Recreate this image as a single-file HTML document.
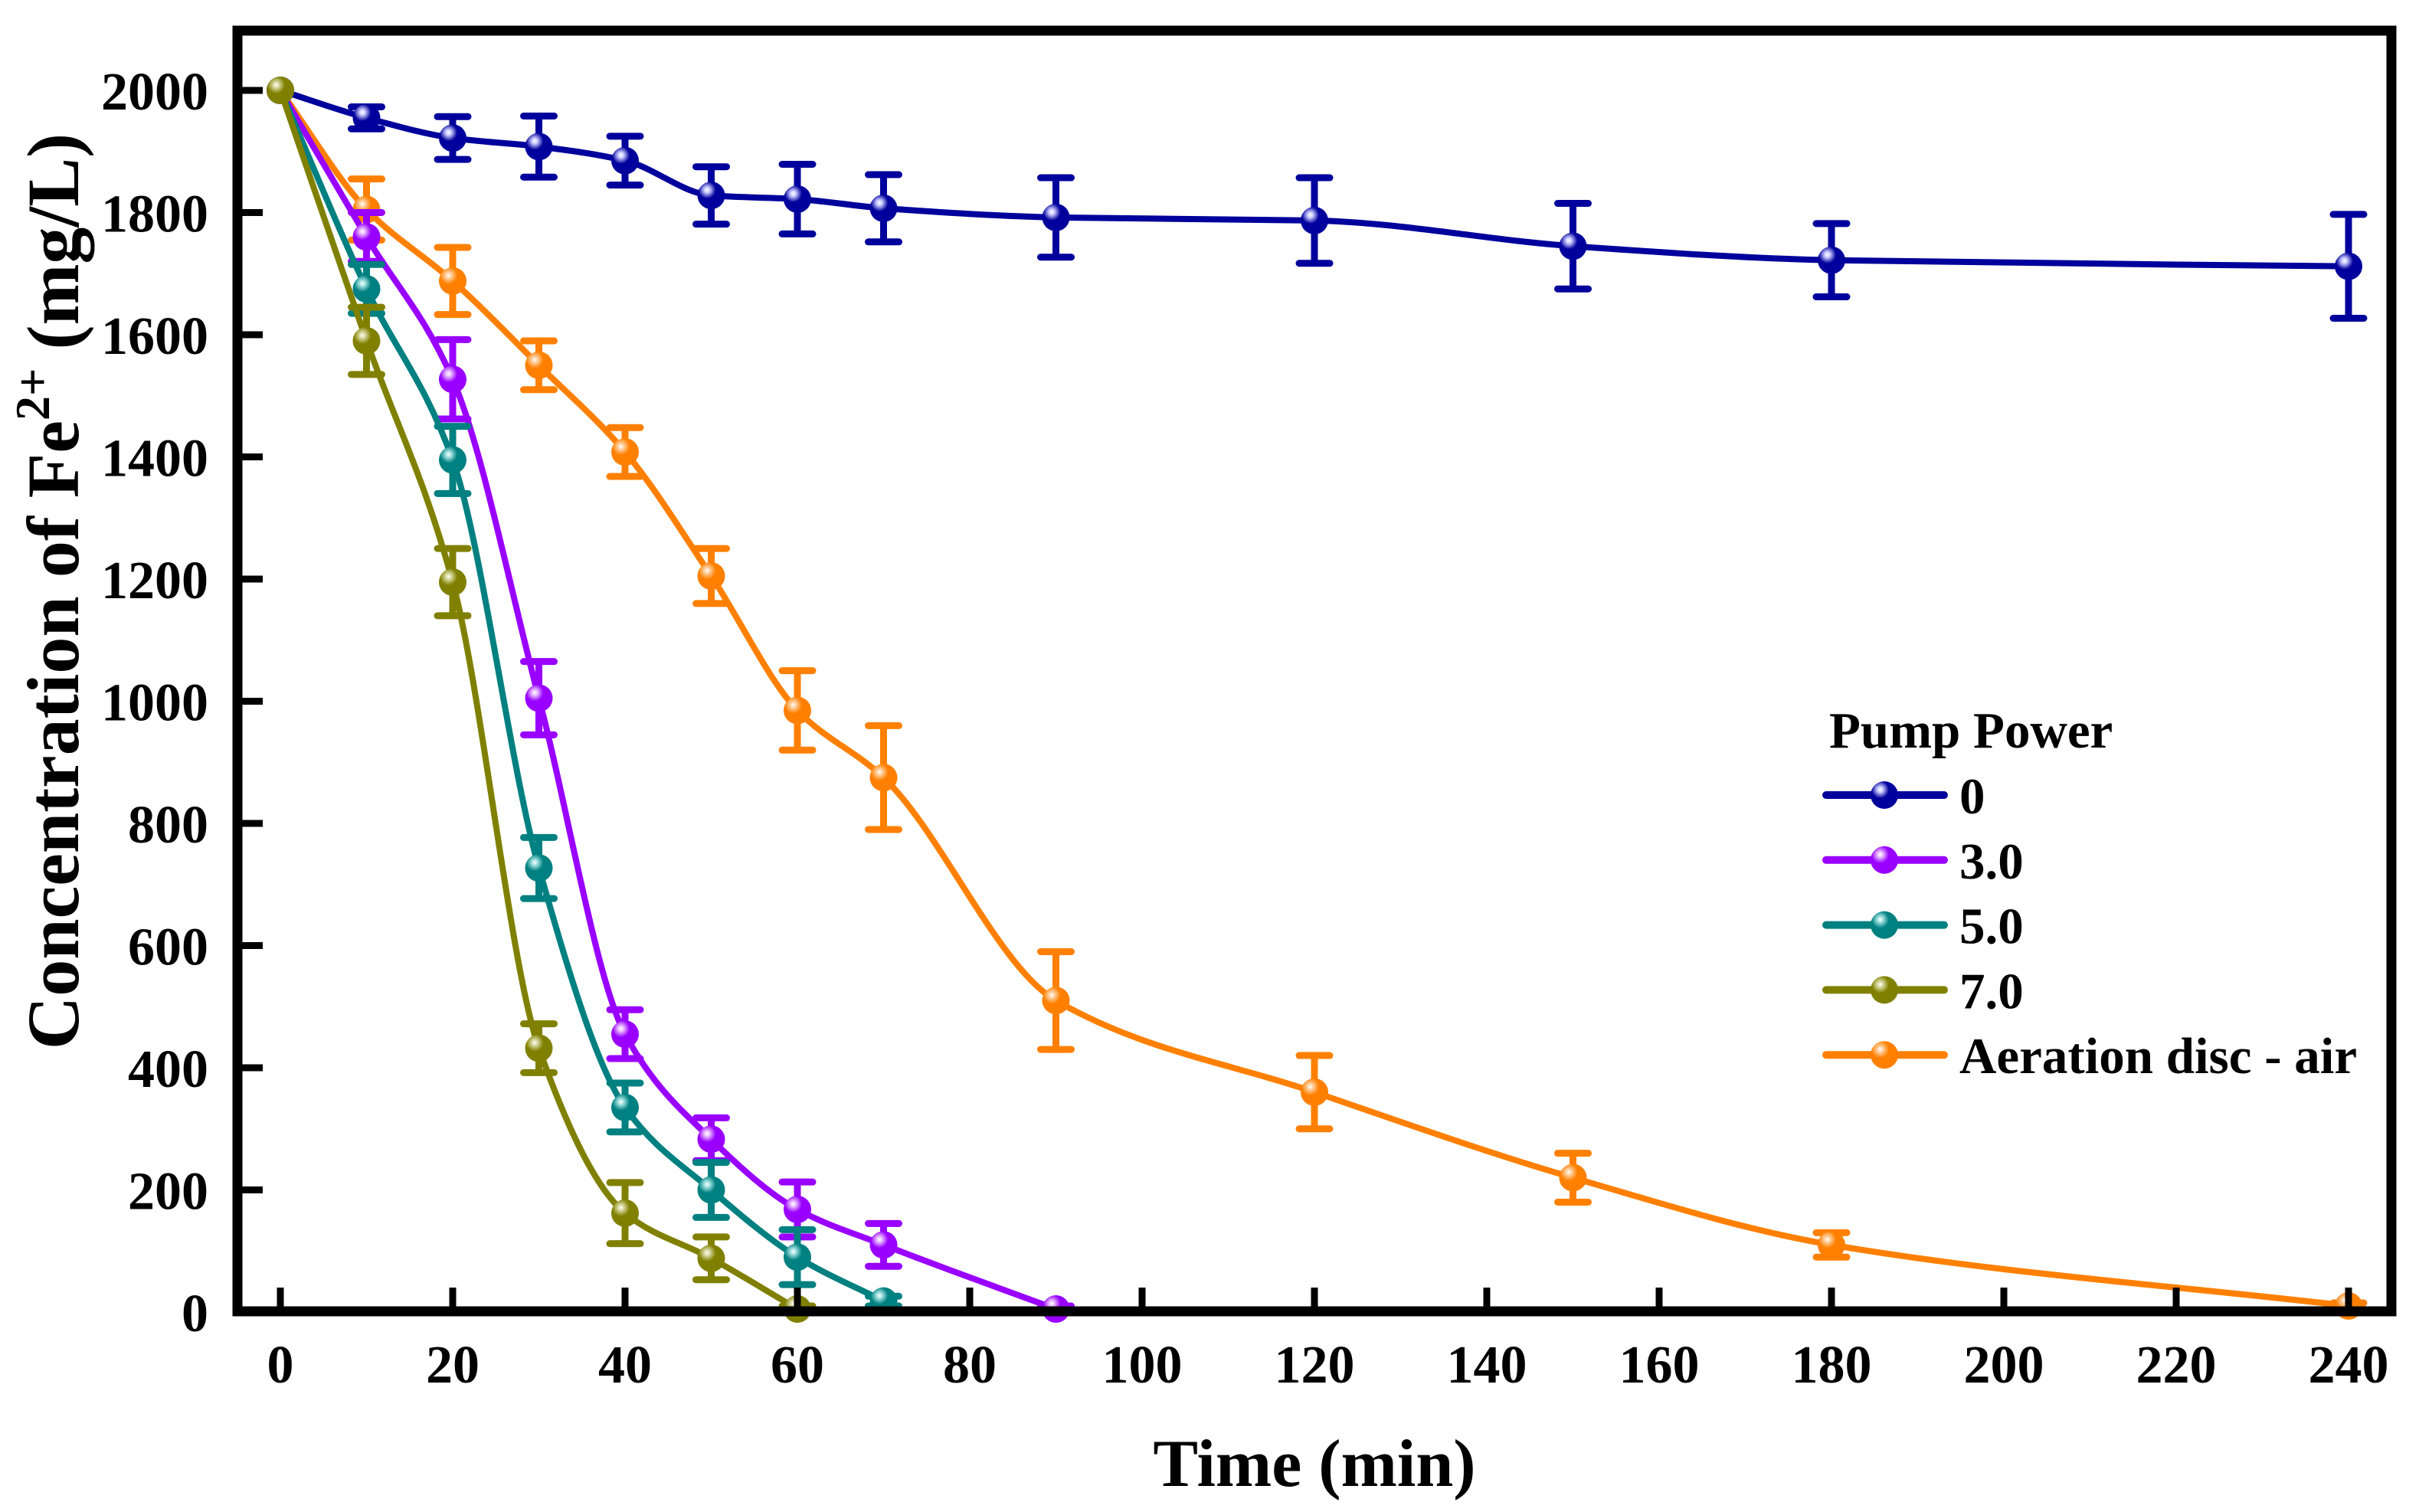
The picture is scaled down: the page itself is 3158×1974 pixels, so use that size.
<!DOCTYPE html>
<html><head><meta charset="utf-8"><style>
html,body{margin:0;padding:0;background:#fff}
svg{display:block}
text{font-family:"Liberation Serif",serif;font-weight:bold;fill:#000}
</style></head><body>
<svg id="chart" width="3158" height="1974" viewBox="0 0 3158 1974" xmlns="http://www.w3.org/2000/svg">
<defs>
<radialGradient id="gBlue" cx="0.35" cy="0.3" r="0.7"><stop offset="0" stop-color="#fff"/><stop offset="0.15" stop-color="#c8c8ff"/><stop offset="0.45" stop-color="#00009c"/><stop offset="1" stop-color="#00009c"/></radialGradient>
<radialGradient id="gPurple" cx="0.35" cy="0.3" r="0.7"><stop offset="0" stop-color="#fff"/><stop offset="0.15" stop-color="#e8b8ff"/><stop offset="0.45" stop-color="#9900ff"/><stop offset="1" stop-color="#9900ff"/></radialGradient>
<radialGradient id="gTeal" cx="0.35" cy="0.3" r="0.7"><stop offset="0" stop-color="#fff"/><stop offset="0.15" stop-color="#a0e0e0"/><stop offset="0.45" stop-color="#008080"/><stop offset="1" stop-color="#008080"/></radialGradient>
<radialGradient id="gOlive" cx="0.35" cy="0.3" r="0.7"><stop offset="0" stop-color="#fff"/><stop offset="0.15" stop-color="#d8d8a0"/><stop offset="0.45" stop-color="#808000"/><stop offset="1" stop-color="#808000"/></radialGradient>
<radialGradient id="gOrange" cx="0.35" cy="0.3" r="0.7"><stop offset="0" stop-color="#fff"/><stop offset="0.15" stop-color="#ffd0a0"/><stop offset="0.45" stop-color="#ff8000"/><stop offset="1" stop-color="#ff8000"/></radialGradient>
</defs>
<g id="plot"></g>
<g id="axes"></g>
<text x="1716" y="1940" font-size="88" text-anchor="middle">Time (min)</text>
<text transform="translate(102,772) rotate(-90)" font-size="96" text-anchor="middle">Concentration of Fe<tspan font-size="64" dy="-38">2+</tspan><tspan dy="38"> (mg/L)</tspan></text>
<g id="legend">
<text x="2388" y="976" font-size="67">Pump Power</text>
</g>
</svg>
<script>
const times = [0,10,20,30,40,50,60,70,90,120,150,180,240];
const seriesNames = ["0","3.0","5.0","7.0","Aeration disc - air"];
const s0x = [0,10,20,30,40,50,60,70,90,120,150,180,240];
const s0y = [2000,1955,1922,1908,1885,1828,1822,1807,1792,1787,1745,1722,1712];
const s0e = [0,18,35,50,40,47,57,55,65,70,70,60,85];
const s3x = [0,10,20,30,40,50,60,70,90];
const s3y = [2000,1760,1527,1005,455,283,168,110,5];
const s3e = [0,40,65,60,40,35,45,35,5];
const s5x = [0,10,20,30,40,50,60,70];
const s5y = [2000,1675,1395,727,335,200,90,18];
const s5e = [0,40,55,50,40,45,45,8];
const s7x = [0,10,20,30,40,50,60];
const s7y = [2000,1590,1195,432,162,88,5];
const s7e = [0,55,55,40,50,35,5];
const sAx = [0,10,20,30,40,50,60,70,90,120,150,180,240];
const sAy = [2000,1805,1688,1550,1408,1205,985,875,510,360,220,110,10];
const sAe = [0,50,55,40,40,45,65,85,80,60,40,20,5];
const xTicks = [0,20,40,60,80,100,120,140,160,180,200,220,240];
const yTicks = [0,200,400,600,800,1000,1200,1400,1600,1800,2000];

const NS="http://www.w3.org/2000/svg";
const X0=366, XS=225/20, Y0=1713, YS=159.5/200;
function xs(v){return X0+v*XS;}
function ys(v){return Y0-v*YS;}
function mk(tag,attrs,parent){const e=document.createElementNS(NS,tag);for(const k in attrs)e.setAttribute(k,attrs[k]);parent.appendChild(e);return e;}

const plot=document.getElementById('plot');
const axes=document.getElementById('axes');
const legend=document.getElementById('legend');

const series=[
 {x:s0x,y:s0y,e:s0e,c:"#00009c",g:"gBlue",n:"pump-0"},
 {x:sAx,y:sAy,e:sAe,c:"#ff8000",g:"gOrange",n:"aeration-disc"},
 {x:s3x,y:s3y,e:s3e,c:"#9900ff",g:"gPurple",n:"pump-3"},
 {x:s5x,y:s5y,e:s5e,c:"#008080",g:"gTeal",n:"pump-5"},
 {x:s7x,y:s7y,e:s7e,c:"#808000",g:"gOlive",n:"pump-7"}
];

// monotone cubic (Fritsch-Carlson) in pixel space
function smoothPath(px,py){
  const n=px.length, d=[], m=new Array(n);
  for(let i=0;i<n-1;i++) d.push((py[i+1]-py[i])/(px[i+1]-px[i]));
  m[0]=d[0]; m[n-1]=d[n-2];
  for(let i=1;i<n-1;i++){
    if(d[i-1]*d[i]<=0) m[i]=0;
    else{const h0=px[i]-px[i-1],h1=px[i+1]-px[i];const w1=2*h1+h0,w2=h1+2*h0;m[i]=(w1+w2)/(w1/d[i-1]+w2/d[i]);}
  }
  let p="M"+px[0]+","+py[0];
  for(let i=0;i<n-1;i++){
    const h=(px[i+1]-px[i])/3;
    p+=" C"+(px[i]+h)+","+(py[i]+m[i]*h)+" "+(px[i+1]-h)+","+(py[i+1]-m[i+1]*h)+" "+px[i+1]+","+py[i+1];
  }
  return p;
}

series.forEach(s=>{
  const g=mk('g',{},plot);
  
  
  const px=s.x.map(xs), py=s.y.map(ys);
  const line=mk('path',{d:smoothPath(px,py),fill:'none',stroke:s.c,'stroke-width':8,'stroke-linejoin':'round'},g);
  
  
  s.x.forEach((t,i)=>{
    if(s.e[i]>0){
      const cx=xs(t), yt=ys(s.y[i]+s.e[i]), yb=ys(Math.max(s.y[i]-s.e[i],0));
      const eb=mk('path',{d:`M${cx},${yt}V${yb}M${cx-20},${yt}H${cx+20}M${cx-20},${yb}H${cx+20}`,stroke:s.c,'stroke-width':9,fill:'none','stroke-linecap':'round'},g);
      
      
    }
  });
  s.x.forEach((t,i)=>{
    const c=mk('circle',{cx:xs(t),cy:ys(s.y[i]),r:18,fill:'url(#'+s.g+')'},g);
    
    
  });
});

const fr=mk('rect',{x:310,y:40,width:2812,height:1672,fill:'none',stroke:'#000','stroke-width':13},axes);


xTicks.forEach(v=>{
  const t=mk('line',{x1:xs(v),x2:xs(v),y1:Y0,y2:Y0-32,stroke:'#000','stroke-width':9},axes);
  
  
  const l=mk('text',{x:xs(v),y:1805,'font-size':70,'text-anchor':'middle'},axes);
  l.textContent=v;
  
  
});
yTicks.forEach(v=>{
  const t=mk('line',{x1:310,x2:343,y1:ys(v),y2:ys(v),stroke:'#000','stroke-width':9},axes);
  
  
  const l=mk('text',{x:272,y:ys(v)+25,'font-size':70,'text-anchor':'end'},axes);
  l.textContent=v;
  
  
});

const legOrder=[[0,"#00009c","gBlue"],[1,"#9900ff","gPurple"],[2,"#008080","gTeal"],[3,"#808000","gOlive"],[4,"#ff8000","gOrange"]];
legOrder.forEach((o,i)=>{
  const cy=1038+i*84.8;
  const g=mk('g',{},legend);
  
  
  mk('line',{x1:2384,x2:2538,y1:cy,y2:cy,stroke:o[1],'stroke-width':10,'stroke-linecap':'round'},g);
  mk('circle',{cx:2460,cy:cy,r:18,fill:'url(#'+o[2]+')'},g);
  const t=mk('text',{x:2558,y:cy+24,'font-size':67},g);
  t.textContent=seriesNames[o[0]];
  
  
});
</script>
</body></html>
